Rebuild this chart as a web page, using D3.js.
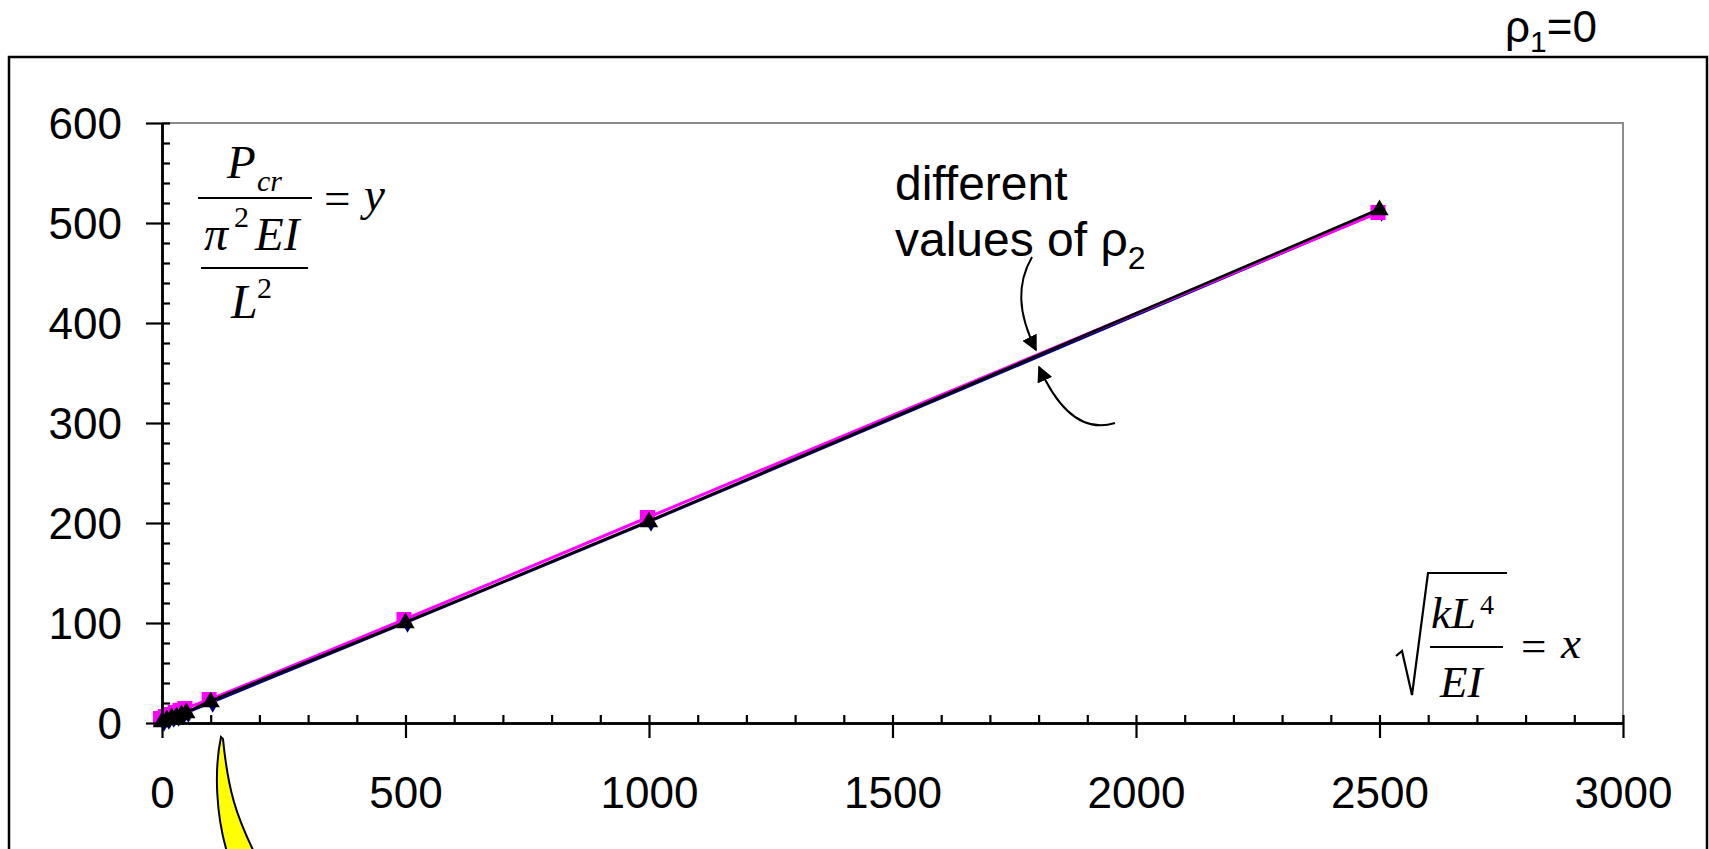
<!DOCTYPE html>
<html><head><meta charset="utf-8">
<script src="https://cdn.jsdelivr.net/npm/d3@7"></script>
<style>
html,body{margin:0;padding:0;background:#fff;}
svg{display:block;}
</style></head>
<body>
<svg id="chart" width="1709" height="849"></svg>
<script>
// ---- data ----
const xValues      = [0, 10, 20, 30, 40, 50, 100, 500, 1000, 2500];
const seriesBlue    = [1, 3, 5, 6, 8, 10, 20, 100, 201, 511];
const seriesMagenta = [5, 7, 9, 11, 13, 15, 24, 104, 206, 511];
const seriesBlack   = [2, 4, 6, 7, 9, 11, 22, 101, 202, 514];
const xMajorTicks = [0, 500, 1000, 1500, 2000, 2500, 3000];
const xMinorTicks = d3.range(0, 3001, 100);
const yMajorTicks = [0, 100, 200, 300, 400, 500, 600];
const yMinorTicks = d3.range(0, 601, 20);

const svg = d3.select("#chart");
const x = d3.scaleLinear().domain([0, 3000]).range([162, 1623]);
const y = d3.scaleLinear().domain([0, 600]).range([723, 123]);
const sans = "'Liberation Sans', Arial, sans-serif";
const serif = "'Liberation Serif', 'Times New Roman', serif";

// outer frame
svg.append("rect").attr("x", 9).attr("y", 57).attr("width", 1698).attr("height", 900)
  .attr("fill", "none").attr("stroke", "#000").attr("stroke-width", 2.5);

// plot area gray border (top and right)
svg.append("path")
  .attr("d", `M${x(0)},${y(600)} H${x(3000)} V${y(0)}`)
  .attr("fill", "none").attr("stroke", "#8c8c8c").attr("stroke-width", 2);

// ---- series ----
const line = d3.line().x((d, i) => x(xValues[i])).y(d => y(d)).curve(d3.curveCatmullRom.alpha(0.5));

svg.append("path").datum(seriesBlue).attr("d", line)
  .attr("fill", "none").attr("stroke", "#000080").attr("stroke-width", 2);
svg.append("g").selectAll("path").data(seriesBlue).join("path")
  .attr("transform", (d, i) => `translate(${x(xValues[i]) + 2},${y(d) + 2})`)
  .attr("d", d3.symbol(d3.symbolDiamond, 70)())
  .attr("fill", "#000080");

svg.append("path").datum(seriesMagenta).attr("d", line)
  .attr("fill", "none").attr("stroke", "#ff00ff").attr("stroke-width", 3);
svg.append("g").selectAll("rect").data(seriesMagenta).join("rect")
  .attr("x", (d, i) => x(xValues[i]) - 9).attr("y", d => y(d) - 7)
  .attr("width", 15).attr("height", 15).attr("fill", "#ff00ff");

svg.append("path").datum(seriesBlack).attr("d", line)
  .attr("fill", "none").attr("stroke", "#000").attr("stroke-width", 2.6);
svg.append("g").selectAll("path").data(seriesBlack).join("path")
  .attr("transform", (d, i) => `translate(${x(xValues[i])},${y(d) + 1})`)
  .attr("d", d3.symbol(d3.symbolTriangle, 145)())
  .attr("fill", "#000");

// ---- axes ----
function styleAxis(g) {
  g.selectAll(".domain").attr("stroke", "#000").attr("stroke-width", 2.5);
  g.selectAll(".tick line").attr("stroke", "#000").attr("stroke-width", 2.2);
}
svg.append("g").attr("transform", `translate(0,${y(0)})`)
  .call(d3.axisTop(x).tickValues(xMinorTicks).tickSize(8).tickSizeOuter(0).tickFormat(""))
  .call(styleAxis);
svg.append("g").attr("transform", `translate(0,${y(0)})`)
  .call(d3.axisBottom(x).tickValues(xMajorTicks).tickSize(15).tickSizeOuter(0).tickFormat(d3.format("d")))
  .call(styleAxis)
  .call(g => g.selectAll(".tick text").attr("font-family", sans).attr("font-size", 44).attr("fill", "#000").attr("dy", 0).attr("y", 85));

svg.append("g").attr("transform", `translate(${x(0)},0)`)
  .call(d3.axisRight(y).tickValues(yMinorTicks).tickSize(8).tickSizeOuter(0).tickFormat(""))
  .call(styleAxis);
svg.append("g").attr("transform", `translate(${x(0)},0)`)
  .call(d3.axisLeft(y).tickValues(yMajorTicks).tickSize(16).tickSizeOuter(0).tickFormat(d3.format("d")))
  .call(styleAxis)
  .call(g => g.selectAll(".tick text").attr("font-family", sans).attr("font-size", 44).attr("fill", "#000")
    .attr("x", -40).attr("dy", "0.36em"));

// ---- annotations ----
const t1 = svg.append("text").attr("x", 1505).attr("y", 42).attr("font-family", sans).attr("font-size", 44).attr("fill", "#000");
t1.append("tspan").text("ρ");
t1.append("tspan").attr("font-size", 30).attr("dy", 10).text("1");
t1.append("tspan").attr("dy", -10).text("=0");

svg.append("text").attr("x", 895).attr("y", 200).attr("font-family", sans).attr("font-size", 48).attr("fill", "#000").text("different");
const t2 = svg.append("text").attr("x", 895).attr("y", 256).attr("font-family", sans).attr("font-size", 48).attr("fill", "#000");
t2.append("tspan").text("values of ρ");
t2.append("tspan").attr("font-size", 32).attr("dy", 13).text("2");

const defs = svg.append("defs");
defs.append("marker").attr("id", "ah").attr("viewBox", "0 0 10 10").attr("refX", 9).attr("refY", 5)
  .attr("markerWidth", 8).attr("markerHeight", 8).attr("markerUnits", "strokeWidth").attr("orient", "auto")
  .append("path").attr("d", "M0,0 L10,5 L0,10 z").attr("fill", "#000");
svg.append("path").attr("d", "M1032,257 C1017,283 1017,312 1036,350")
  .attr("fill", "none").attr("stroke", "#000").attr("stroke-width", 2).attr("marker-end", "url(#ah)");
svg.append("path").attr("d", "M1115,423 C1086,432 1060,414 1039,367")
  .attr("fill", "none").attr("stroke", "#000").attr("stroke-width", 2).attr("marker-end", "url(#ah)");

// formula helper: one text element, pieces as positioned tspans
function formula(pieces) {
  const t = svg.append("text").attr("font-family", serif).attr("fill", "#000");
  pieces.forEach(p => t.append("tspan").attr("x", p[1]).attr("y", p[2]).attr("font-size", p[3])
    .attr("font-style", p[4] === false ? "normal" : "italic").text(p[0]));
  return t;
}
formula([["P", 227, 178, 47], ["cr", 257, 191, 30]]);
svg.append("line").attr("x1", 198).attr("x2", 312).attr("y1", 198).attr("y2", 198).attr("stroke", "#000").attr("stroke-width", 1.8);
formula([["=", 324, 214, 47, false], ["y", 364, 210, 47]]);
formula([["π", 204, 250, 48], ["2", 234, 227, 30, false], ["EI", 255, 250, 47]]);
svg.append("line").attr("x1", 201).attr("x2", 308).attr("y1", 268).attr("y2", 268).attr("stroke", "#000").attr("stroke-width", 1.8);
formula([["L", 231, 318, 48], ["2", 257, 298, 30, false]]);

svg.append("path").attr("d", "M1396,656 L1402,651 L1412,695 L1428,573 L1507,573")
  .attr("fill", "none").attr("stroke", "#000").attr("stroke-width", 2.2).attr("stroke-linejoin", "miter");
formula([["kL", 1431, 628, 45], ["4", 1480, 614, 28, false]]);
svg.append("line").attr("x1", 1430).attr("x2", 1503).attr("y1", 647).attr("y2", 647).attr("stroke", "#000").attr("stroke-width", 1.8);
formula([["EI", 1440, 697, 45]]);
formula([["=", 1521, 661, 45, false], ["x", 1561, 658, 45]]);

// yellow callout
svg.append("path").attr("d", "M221,737 C214,770 216,815 227,852 L254,852 C236,815 228,790 223,739 Z")
  .attr("fill", "#ffff00").attr("stroke", "#000").attr("stroke-width", 2);
</script>
</body></html>
